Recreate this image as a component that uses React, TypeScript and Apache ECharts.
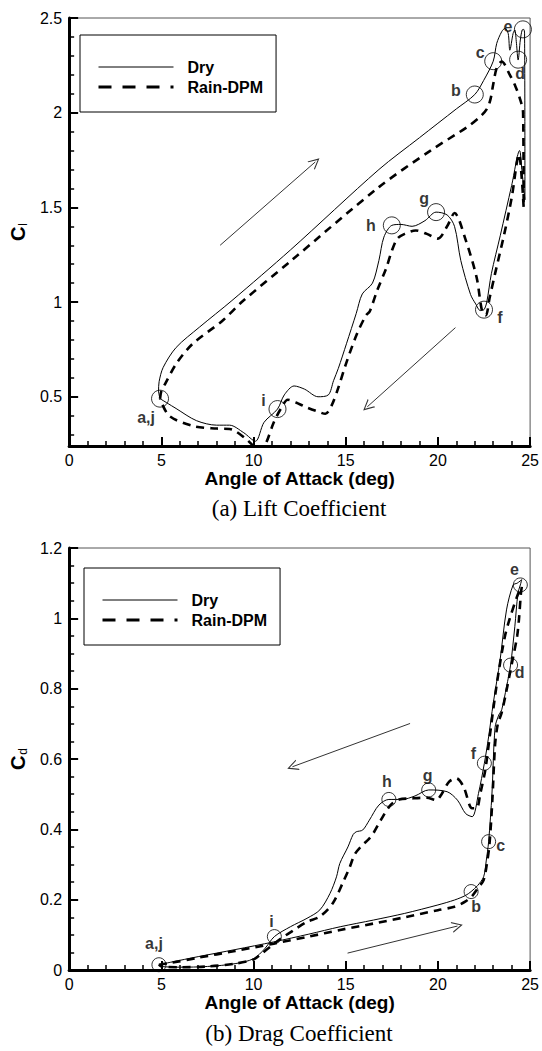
import React, { useEffect, useRef } from "react";
import * as echarts from "echarts";

// ---------- data: lift coefficient (panel a) ----------
const dryLiftUp: number[][] = [
  [4.93, 0.49], [4.85, 0.53], [4.88, 0.58], [5.1, 0.655], [5.8, 0.76], [7.06, 0.867],
  [8.83, 1.008], [12, 1.275], [16.8, 1.7], [19, 1.868], [21, 2.02], [22, 2.096],
  [22.48, 2.17], [23, 2.272], [23.19, 2.366], [23.46, 2.428], [23.63, 2.445], [23.81, 2.419],
  [23.9, 2.33], [24.08, 2.419], [24.17, 2.437], [24.26, 2.366], [24.35, 2.278], [24.47, 2.384],
  [24.57, 2.437], [24.65, 2.44], [24.7, 2.42],
];
const dryLiftDown: number[][] = [
  [24.72, 1.54], [24.55, 1.7], [24.43, 1.8], [24.0, 1.616], [23.38, 1.35], [22.9, 1.15],
  [22.65, 1.0], [22.5, 0.96], [22.3, 0.955], [22.05, 0.99], [21.77, 1.04], [21.24, 1.22],
  [20.9, 1.4], [20.5, 1.46], [19.9, 1.475], [19.3, 1.43], [18.6, 1.4], [18.0, 1.41],
  [17.5, 1.405], [17.07, 1.343], [16.8, 1.22], [16.45, 1.1], [15.9, 1.043], [15.57, 0.94],
  [15.04, 0.78], [14.6, 0.65], [14.34, 0.585], [14.06, 0.51], [13.5, 0.5], [12.77, 0.54],
  [12.2, 0.557], [11.67, 0.51], [11.3, 0.435], [10.57, 0.365], [10.1, 0.265], [9.47, 0.31],
  [8.7, 0.35], [8.0, 0.35], [6.9, 0.374], [5.8, 0.438], [4.93, 0.49],
];
const rainLiftUp: number[][] = [
  [4.93, 0.49], [5.0, 0.53], [5.2, 0.567], [5.8, 0.673], [6.7, 0.78], [8.3, 0.9],
  [9.36, 1.0], [12, 1.215], [16.8, 1.607], [19.6, 1.8], [21.6, 1.925], [22.3, 1.98],
  [22.66, 2.02], [22.85, 2.07], [23.0, 2.15], [23.2, 2.24], [23.46, 2.27], [23.9, 2.2],
  [24.2, 2.14], [24.43, 2.08], [24.62, 2.0], [24.65, 1.5],
];
const rainLiftDown: number[][] = [
  [24.55, 1.65], [24.4, 1.78], [24.0, 1.55], [23.6, 1.36], [23.1, 1.15], [22.8, 1.02],
  [22.6, 0.93], [22.4, 0.95], [22.1, 1.13], [21.5, 1.33], [20.9, 1.47], [20.5, 1.4],
  [20.0, 1.335], [19.4, 1.36], [18.8, 1.378], [18.2, 1.36], [17.8, 1.335], [17.5, 1.27],
  [17.2, 1.18], [16.7, 1.06], [16.3, 0.95], [16.1, 0.93], [15.6, 0.83], [15.0, 0.67],
  [14.6, 0.548], [14.25, 0.457], [13.9, 0.41], [13.4, 0.425], [12.8, 0.447], [12.3, 0.47],
  [11.86, 0.484], [11.5, 0.44], [11.1, 0.365], [10.7, 0.26], [10.4, 0.21], [10.0, 0.24],
  [9.65, 0.273], [9.0, 0.32], [8.7, 0.33], [8.0, 0.332], [6.7, 0.346], [5.42, 0.4], [4.93, 0.49],
];
const liftMarkerNames = ["a,j", "b", "c", "d", "e", "f", "g", "h", "i"];
const liftMarkerPoints: number[][] = [
  [4.93, 0.49], [22, 2.096], [23, 2.272], [24.35, 2.28], [24.61, 2.44],
  [22.5, 0.96], [19.9, 1.475], [17.5, 1.405], [11.3, 0.435],
];
const liftArrows: number[][][] = [
  [[8.19, 1.3], [13.35, 1.74]],
  [[20.95, 0.865], [16.17, 0.447]],
];
const liftTicks = [0.5, 1, 1.5, 2, 2.5];
const liftMinorTicks = [0.3, 0.4, 0.6, 0.7, 0.8, 0.9, 1.1, 1.2, 1.3, 1.4, 1.6, 1.7, 1.8, 1.9, 2.1, 2.2, 2.3, 2.4];

// ---------- data: drag coefficient (panel b) ----------
const dryDragUp: number[][] = [
  [4.87, 0.015], [5.5, 0.022], [7, 0.038], [9, 0.058], [11.1, 0.08], [13, 0.102],
  [14.7, 0.123], [16.5, 0.142], [18.2, 0.161], [20, 0.185], [20.9, 0.199], [21.5, 0.212],
  [21.8, 0.223], [22.15, 0.24], [22.48, 0.265], [22.62, 0.31], [22.75, 0.365], [22.93, 0.5],
  [23.1, 0.69], [23.3, 0.725], [23.46, 0.74], [23.72, 0.805], [23.94, 0.867], [24.17, 0.976],
  [24.34, 1.071], [24.47, 1.095], [24.55, 1.11],
];
const dryDragDown: number[][] = [
  [24.3, 1.1], [24.08, 1.095], [23.72, 1.024], [23.37, 0.881], [23.0, 0.758], [22.75, 0.663],
  [22.52, 0.588], [22.2, 0.502], [21.86, 0.436], [21.5, 0.445], [21.06, 0.483], [20.5, 0.507],
  [19.5, 0.512], [18.76, 0.495], [18.05, 0.485], [17.34, 0.485], [16.8, 0.469], [16.28, 0.426],
  [15.92, 0.398], [15.57, 0.393], [15.4, 0.385], [15.12, 0.35], [14.68, 0.303], [14.5, 0.265],
  [14.15, 0.218], [13.6, 0.171], [12.9, 0.147], [12.0, 0.123], [11.13, 0.095], [10.6, 0.06],
  [10.0, 0.032], [9.0, 0.018], [7.5, 0.01], [6, 0.008], [5.0, 0.01], [4.87, 0.015],
];
const rainDragUp: number[][] = [
  [4.87, 0.015], [5.5, 0.02], [7, 0.035], [9, 0.054], [11.1, 0.075], [13, 0.095],
  [14.7, 0.114], [16.5, 0.132], [18.2, 0.15], [20, 0.17], [20.9, 0.18], [21.5, 0.195],
  [21.85, 0.21], [22.2, 0.235], [22.48, 0.256], [22.65, 0.3], [22.8, 0.36], [22.95, 0.48],
  [23.1, 0.64], [23.25, 0.7], [23.45, 0.73], [23.7, 0.79], [24.08, 0.89], [24.3, 0.95],
  [24.4, 1.0], [24.5, 1.07], [24.55, 1.09],
];
const rainDragDown: number[][] = [
  [24.35, 1.07], [23.9, 1.0], [23.63, 0.948], [23.3, 0.85], [23.05, 0.76], [22.8, 0.66],
  [22.57, 0.569], [22.3, 0.502], [22.1, 0.46], [21.85, 0.46], [21.4, 0.52], [21.0, 0.545],
  [20.6, 0.535], [20.2, 0.5], [19.9, 0.483], [19.4, 0.49], [18.6, 0.488], [17.9, 0.485],
  [17.43, 0.469], [16.9, 0.426], [16.5, 0.389], [16.25, 0.372], [15.9, 0.355], [15.5, 0.33],
  [15.2, 0.29], [14.9, 0.255], [14.3, 0.19], [13.6, 0.152], [12.9, 0.137], [12.2, 0.114],
  [11.5, 0.09], [11.0, 0.07], [10.4, 0.045], [10.0, 0.03], [9.0, 0.018], [7.5, 0.01],
  [6, 0.008], [5.0, 0.01], [4.87, 0.015],
];
const dragMarkerNames = ["a,j", "b", "c", "d", "e", "f", "g", "h", "i"];
const dragMarkerPoints: number[][] = [
  [4.87, 0.015], [21.8, 0.223], [22.75, 0.365], [23.94, 0.867], [24.47, 1.095],
  [22.52, 0.588], [19.5, 0.512], [17.34, 0.485], [11.13, 0.095],
];
const dragArrows: number[][][] = [
  [[18.49, 0.701], [12.11, 0.578]],
  [[15.1, 0.048], [21.06, 0.125]],
];

const seriesNames = ["Dry", "Rain-DPM"];
const captions = ["(a) Lift Coefficient", "(b) Drag Coefficient"];
const xTitle = "Angle of Attack (deg)";

// ---------- styles ----------
const SANS = '"Liberation Sans", Arial, Helvetica, sans-serif';
const SERIF = '"Liberation Serif", "Times New Roman", Times, serif';
const liftLabelOffsets = [[-14, 19], [-19, -4], [-13, -9], [2, 14], [-15, -3], [16, 8], [-12, -14], [-21, 0], [-14, -9]];
const dragLabelOffsets = [[-5, -21], [5, 15], [12, 4], [9, 7], [-6, -15], [-11, -10], [-1, -14], [-2, -18], [-3, -15]];
const CHEVRON = "path://M5,0 L10,10 L8.9,10 L5,2.2 L1.1,10 L0,10 Z";

function xAxisFor(gridIndex: number) {
  return {
    type: "value",
    gridIndex,
    min: 0,
    max: 25,
    interval: 5,
    name: xTitle,
    nameLocation: "middle",
    nameGap: 22,
    nameTextStyle: { fontFamily: SANS, fontSize: 19, fontWeight: "bold", color: "#000" },
    axisLine: { show: true, onZero: false, lineStyle: { color: "#000", width: 3 } },
    axisTick: { show: true, inside: true, length: 9, lineStyle: { color: "#000", width: 2 } },
    minorTick: { show: true, splitNumber: 5, length: 5, lineStyle: { color: "#000", width: 1.5 } },
    splitLine: { show: false },
    minorSplitLine: { show: false },
    axisLabel: { fontFamily: SANS, fontSize: 16, color: "#000", margin: 6 },
  };
}

function yName(sub: string) {
  return {
    name: "{c|C}{s|" + sub + "}",
    nameLocation: "middle",
    nameRotate: 90,
    nameGap: 36,
    nameTextStyle: {
      rich: {
        c: { fontFamily: SANS, fontSize: 20, fontWeight: "bold", color: "#000" },
        s: { fontFamily: SANS, fontSize: 12, color: "#000", padding: [10, 0, 0, 1] },
      },
    },
  };
}

function markerSeries(xi: number, yi: number, names: string[], pts: number[][], offsets: number[][], size: number) {
  return {
    type: "scatter",
    xAxisIndex: xi,
    yAxisIndex: yi,
    symbol: "circle",
    symbolSize: size,
    itemStyle: { color: "rgba(0,0,0,0)", borderColor: "#000", borderWidth: 1 },
    label: {
      show: true,
      position: "inside",
      formatter: "{b}",
      fontFamily: SANS,
      fontSize: 16,
      fontWeight: "bold",
      color: "#000",
    },
    z: 5,
    data: pts.map((p, i) => ({ name: names[i], value: p, label: { offset: offsets[i] } })),
  };
}

function arrowSeries(xi: number, yi: number, arrows: number[][][]) {
  return {
    type: "lines",
    coordinateSystem: "cartesian2d",
    xAxisIndex: xi,
    yAxisIndex: yi,
    symbol: ["none", CHEVRON],
    symbolSize: [9, 11],
    lineStyle: { color: "#333", width: 1, opacity: 1, curveness: 0 },
    silent: true,
    data: arrows.map((c) => ({ coords: c })),
  };
}

function curve(name: string, xi: number, yi: number, pts: number[][], dashed: boolean) {
  return {
    type: "line",
    name,
    xAxisIndex: xi,
    yAxisIndex: yi,
    data: pts,
    symbol: "none",
    smooth: 0.3,
    clip: true,
    itemStyle: { color: "#000" },
    lineStyle: dashed
      ? { color: "#000", width: 2.6, type: [8, 6] }
      : { color: "#000", width: 1 },
    z: 3,
  };
}

function legendFor(left: number, top: number) {
  return {
    data: [
      { name: seriesNames[0], itemStyle: { opacity: 0 }, lineStyle: { color: "#000", width: 1, type: "solid" } },
      { name: seriesNames[1], itemStyle: { opacity: 0 }, lineStyle: { color: "#000", width: 3, type: [13, 11] } },
    ],
    orient: "vertical",
    left,
    top,
    itemWidth: 75,
    itemHeight: 14,
    itemGap: 4,
    padding: [24, 13, 17, 17],
    borderColor: "#000",
    borderWidth: 1,
    borderRadius: 0,
    selectedMode: false,
    textStyle: { fontFamily: SANS, fontSize: 16, fontWeight: "bold", color: "#000", padding: [0, 0, 0, 9] },
  };
}

export default function App() {
  const ref = useRef<HTMLDivElement>(null);
  useEffect(() => {
    if (!ref.current) return;
    const chart = echarts.init(ref.current, null, { renderer: "svg" });
    const option: any = {
      animation: false,
      backgroundColor: "#fff",
      grid: [
        { left: 64, top: 18, width: 470, height: 428, show: true, borderColor: "#555", borderWidth: 1, backgroundColor: "transparent" },
        { left: 64, top: 548, width: 470, height: 422, show: true, borderColor: "#555", borderWidth: 1, backgroundColor: "transparent" },
      ],
      legend: [legendFor(80, 35), legendFor(84, 568)],
      xAxis: [xAxisFor(0), xAxisFor(1)],
      yAxis: [
        {
          type: "value",
          gridIndex: 0,
          min: 0.24,
          max: 2.5,
          ...yName("l"),
          axisLine: { show: true, onZero: false, lineStyle: { color: "#000", width: 3 } },
          axisTick: { show: true, inside: true, length: 9, customValues: liftTicks, lineStyle: { color: "#000", width: 2 } },
          axisLabel: { customValues: liftTicks, fontFamily: SANS, fontSize: 16, color: "#000", margin: 7 },
          splitLine: { show: false },
        },
        {
          type: "value",
          gridIndex: 0,
          min: 0.24,
          max: 2.5,
          position: "left",
          axisLine: { show: false },
          axisTick: { show: true, inside: true, length: 5, customValues: liftMinorTicks, lineStyle: { color: "#000", width: 1.5 } },
          axisLabel: { show: false, customValues: liftMinorTicks },
          splitLine: { show: false },
        },
        {
          type: "value",
          gridIndex: 1,
          min: 0,
          max: 1.2,
          interval: 0.2,
          ...yName("d"),
          axisLine: { show: true, onZero: false, lineStyle: { color: "#000", width: 3 } },
          axisTick: { show: true, inside: true, length: 9, lineStyle: { color: "#000", width: 2 } },
          minorTick: { show: true, splitNumber: 4, length: 5, lineStyle: { color: "#000", width: 1.5 } },
          axisLabel: { fontFamily: SANS, fontSize: 16, color: "#000", margin: 7 },
          splitLine: { show: false },
          minorSplitLine: { show: false },
        },
      ],
      series: [
        curve(seriesNames[0], 0, 0, dryLiftUp.concat(dryLiftDown), false),
        curve(seriesNames[1], 0, 0, rainLiftUp.concat(rainLiftDown), true),
        markerSeries(0, 0, liftMarkerNames, liftMarkerPoints, liftLabelOffsets, 17),
        arrowSeries(0, 0, liftArrows),
        curve(seriesNames[0], 1, 2, dryDragUp.concat(dryDragDown), false),
        curve(seriesNames[1], 1, 2, rainDragUp.concat(rainDragDown), true),
        markerSeries(1, 2, dragMarkerNames, dragMarkerPoints, dragLabelOffsets, 14),
        arrowSeries(1, 2, dragArrows),
      ],
      graphic: [
        {
          type: "text",
          x: 299,
          y: 508,
          style: { text: captions[0], fill: "#000", font: "23px " + SERIF, textAlign: "center", textVerticalAlign: "middle" },
        },
        {
          type: "text",
          x: 299,
          y: 1033,
          style: { text: captions[1], fill: "#000", font: "23px " + SERIF, textAlign: "center", textVerticalAlign: "middle" },
        },
      ],
    };
    chart.setOption(option);
    return () => chart.dispose();
  }, []);
  return (
    <div
      ref={ref}
      style={{ position: "absolute", left: 0, top: 0, width: 542, height: 1051, background: "#fff" }}
    />
  );
}
